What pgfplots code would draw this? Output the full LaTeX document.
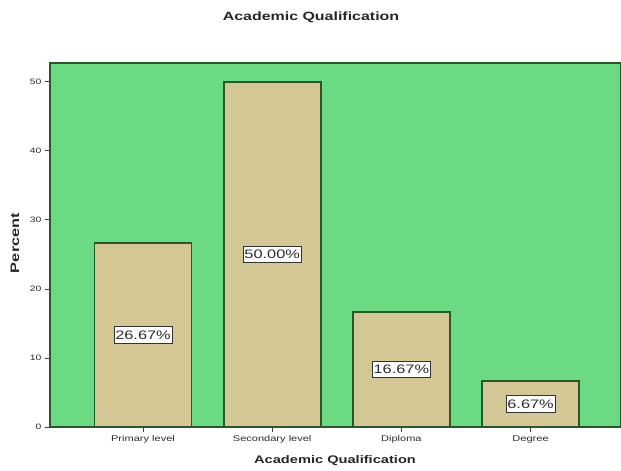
\documentclass[border=0pt]{standalone}
\usepackage{pgfplots}
\pgfplotsset{compat=1.18}
\usepackage{fontspec}
\setmainfont{Liberation Sans}
\newfontfamily\wide[FakeStretch=1.33]{Liberation Sans}

\definecolor{plotbg}{RGB}{108,218,130}
\definecolor{bartan}{RGB}{211,199,150}
\definecolor{baredge}{RGB}{40,88,42}
\definecolor{txt}{RGB}{45,45,45}

\pgfplotstableread{
x pct
0 26.67
1 50.00
2 16.67
3 6.67
}\qualdata

\begin{document}
\begin{tikzpicture}[x=1pt,y=1pt]
\useasboundingbox (0,0) rectangle (621,471);
\begin{axis}[
  at={(50pt,44pt)}, anchor=south west,
  scale only axis, width=571pt, height=364pt,
  xmin=-0.72, xmax=3.70, ymin=0, ymax=52.7,
  axis background/.style={fill=plotbg},
  axis line style={draw=baredge, line width=1.2pt},
  ybar, bar width=97pt, bar shift=0pt,
  xtick={0,1,2,3},
  xticklabels={Primary level, Secondary level, Diploma, Degree},
  ytick={0,10,20,30,40,50},
  xtick pos=left, ytick pos=left,
  tick align=outside, major tick length=5pt,
  tick style={draw=black!75, line width=0.6pt},
  /pgf/number format/assume math mode=true,
  xticklabel style={font=\wide\fontsize{8.3}{9}\selectfont, text=txt},
  yticklabel style={font=\wide\fontsize{7.8}{9}\selectfont, text=txt},
]
% bars
\addplot[fill=bartan, draw=baredge, line width=1.8pt] table[x=x, y=pct] {\qualdata};
% value labels, centred half-way up each bar
\addplot[draw=none, fill=none,
  nodes near coords={\pgfmathprintnumber[fixed, fixed zerofill, precision=2]{\pgfplotspointmeta}\%},
  visualization depends on={y \as \rawy},
  every node near coord/.append style={
    anchor=center, shift={(axis direction cs:0,-\rawy/2)},
    font=\wide\fontsize{12.3}{13}\selectfont, text=txt,
    fill=white, draw=black!80, line width=0.6pt,
    inner xsep=1.3pt, inner ysep=4pt},
] table[x=x, y=pct] {\qualdata};
\end{axis}
% titles
\node[font=\wide\bfseries\fontsize{12}{14}\selectfont, text=black!85] at (311,454) {Academic Qualification};
\node[font=\wide\bfseries\fontsize{11}{13}\selectfont, text=black!85] at (335,10) {Academic Qualification};
\node[font=\wide\bfseries\fontsize{12.3}{14}\selectfont, text=black!85, rotate=90] at (15,228) {Percent};
\end{tikzpicture}
\end{document}
